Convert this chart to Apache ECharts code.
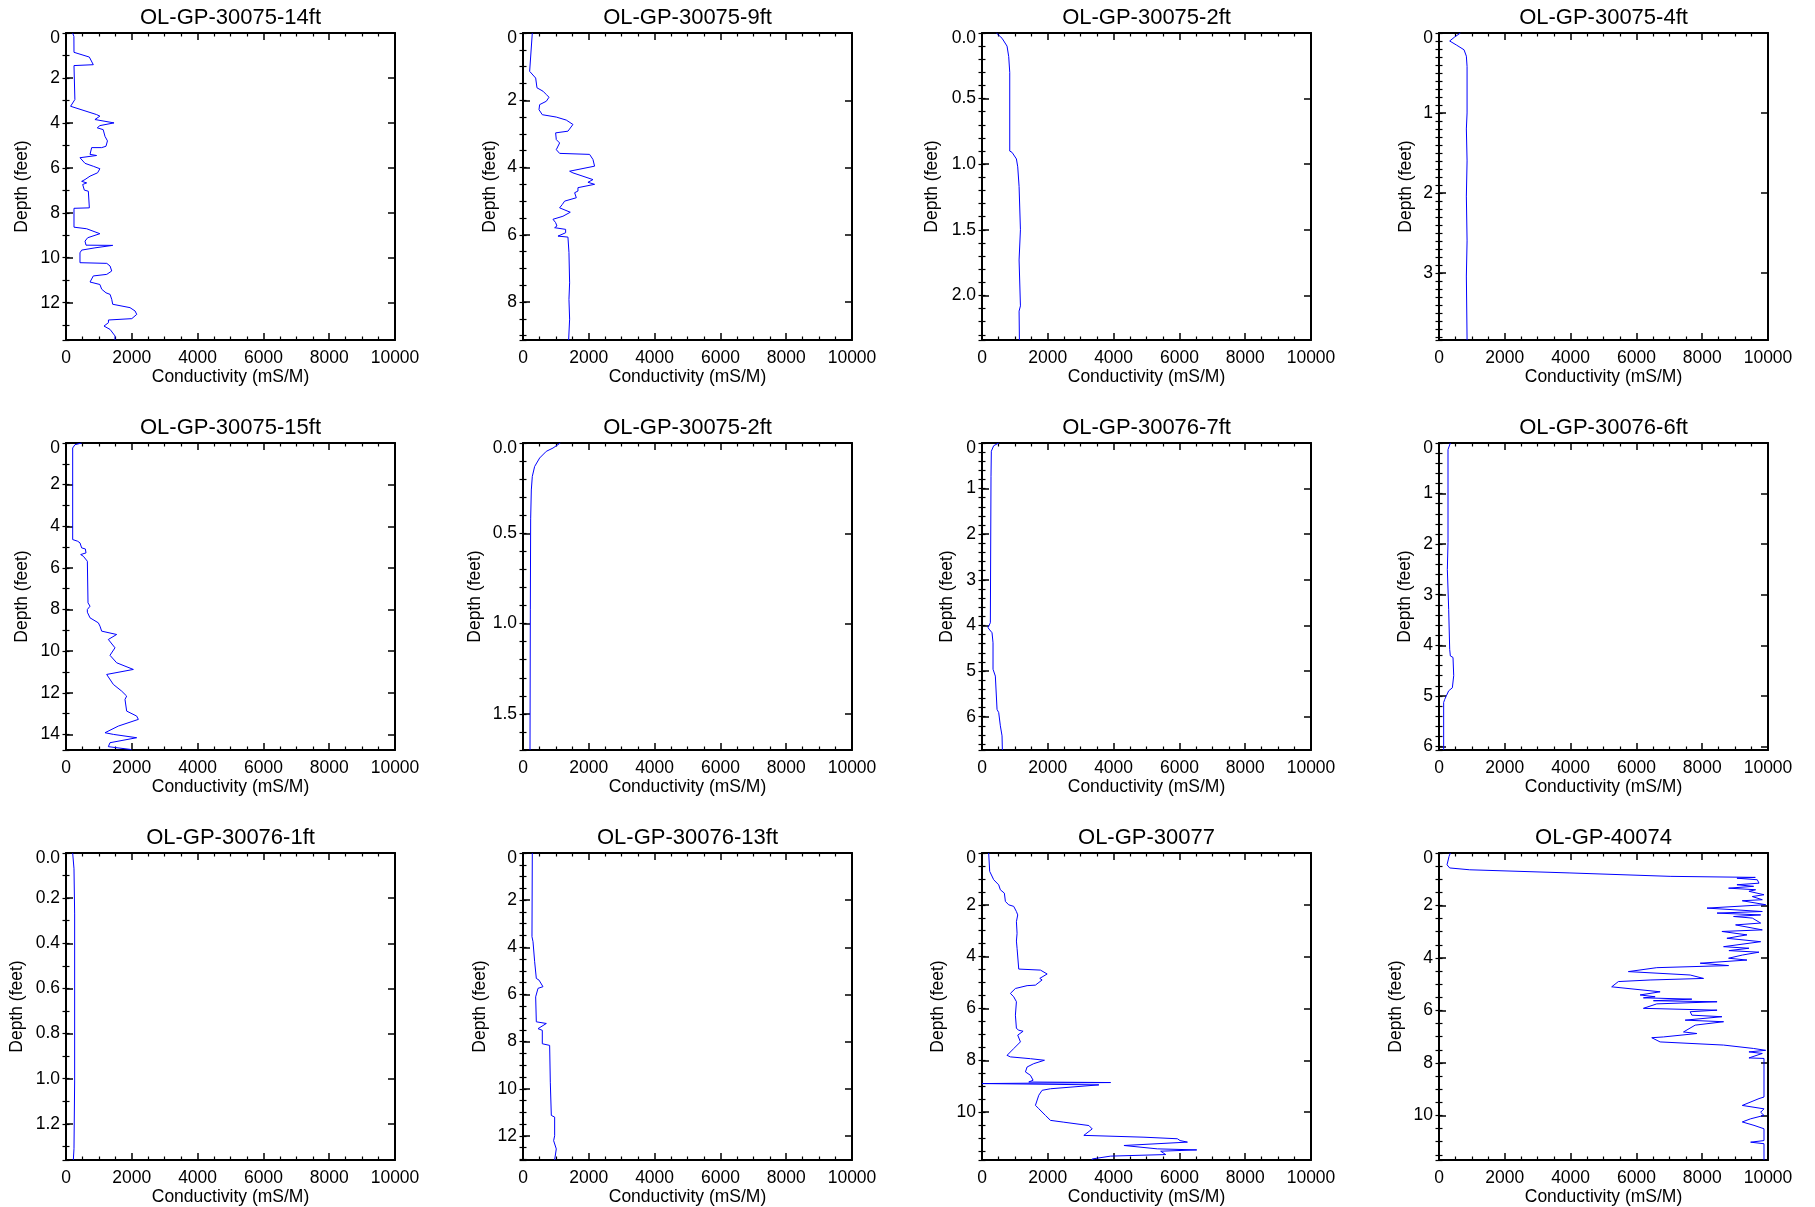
<!DOCTYPE html>
<html><head><meta charset="utf-8">
<script src="https://cdn.jsdelivr.net/npm/echarts@6/dist/echarts.min.js"></script>
<style>html,body{margin:0;padding:0;background:#fff}#chart{width:1815px;height:1207px}</style>
</head><body><div id="chart"></div><script>
// ---------- DATA ----------
const titles = ['OL-GP-30075-14ft','OL-GP-30075-9ft','OL-GP-30075-2ft','OL-GP-30075-4ft',
  'OL-GP-30075-15ft','OL-GP-30075-2ft','OL-GP-30076-7ft','OL-GP-30076-6ft',
  'OL-GP-30076-1ft','OL-GP-30076-13ft','OL-GP-30077','OL-GP-40074'];
const depthMax = [13.66, 9.13, 2.34, 3.84, 14.75, 1.70, 6.73, 6.07, 1.36, 13.02, 11.85, 11.7];
const depthStep = [2, 2, 0.5, 1, 2, 0.5, 1, 1, 0.2, 2, 2, 2];
const depthMinorStep = [1, 0.5, 0.1, 0.1, 1, 0.1, 0.2, 0.2, 0.1, 0.5, 0.5, 0.5];
const depthDecimals = [0, 0, 1, 0, 0, 1, 0, 0, 1, 0, 0, 0];
const condMin = 0, condMax = 10000, condStep = 2000, condMinorSplit = 4;
const xAxisTitle = 'Conductivity (mS/M)';
const yAxisTitle = 'Depth (feet)';

const p1Cond = [200,240,243,709,830,243,270,140,930,1030,880,1460,1030,950,1130,1185,1260,1215,1085,780,730,930,425,385,578,830,1030,960,730,578,476,628,507,557,679,710,243,243,193,628,1030,659,578,608,1420,880,476,425,425,1240,1340,1390,1240,830,730,1030,1085,1215,1340,1390,1420,1945,2100,2150,2000,1290,1290,1155,1340,1490,1490];
const p1Depth = [0,0.15,0.86,1.07,1.41,1.45,2.96,3.26,3.63,3.7,3.85,4.0,4.12,4.22,4.3,4.6,4.8,5.04,5.1,5.1,5.4,5.45,5.55,5.63,5.8,5.93,6.04,6.22,6.37,6.52,6.6,6.67,6.74,6.99,7.04,7.78,7.8,8.64,8.67,8.71,8.93,9.11,9.26,9.44,9.45,9.56,9.66,9.78,10.22,10.25,10.37,10.59,10.74,10.81,11.08,11.19,11.4,11.56,11.63,11.85,12.07,12.22,12.37,12.52,12.71,12.77,12.89,13.04,13.19,13.48,13.66];

const p2Cond = [283,202,253,385,425,607,709,790,709,506,486,587,1012,1316,1518,1366,992,1012,1113,1012,1113,2024,2126,2176,2126,1417,1518,2126,1974,2176,1670,1670,1570,1620,1265,1194,1113,1437,1214,911,992,1032,962,1296,1296,1063,1366,1397,1417,1397,1417,1387];
const p2Depth = [0,1.14,1.19,1.34,1.63,1.73,1.83,1.91,2.03,2.13,2.28,2.43,2.5,2.59,2.72,2.92,2.97,3.17,3.27,3.47,3.58,3.61,3.76,3.96,4.01,4.11,4.16,4.36,4.44,4.5,4.6,4.7,4.75,4.9,5.0,5.1,5.2,5.33,5.45,5.54,5.64,5.74,5.79,5.84,5.94,6.04,6.07,6.53,7.43,7.92,8.51,9.13];

const p3Cond = [437,609,761,812,843,843,914,1046,1086,1127,1168,1127,1168,1127,1137];
const p3Depth = [0,0.04,0.1,0.18,0.3,0.9,0.91,0.96,1.02,1.17,1.5,1.73,2.08,2.12,2.34];

const p4Cond = [650,477,325,528,761,832,853,853,832,853,832,853,832,853];
const p4Depth = [0,0.05,0.1,0.15,0.21,0.29,0.42,1.0,1.2,1.6,2.04,2.6,3.04,3.84];

const p5Cond = [476,274,203,203,355,426,476,588,608,446,527,649,669,730,649,649,730,983,1033,1084,1540,1287,1489,1337,1540,1793,2047,1236,1439,1692,1844,1793,1844,2148,2199,1591,1185,1439,2148,1337,1287,1945,1995];
const p5Depth = [0,0.08,0.24,4.64,4.72,4.8,5.04,5.09,5.28,5.36,5.44,5.68,7.68,7.84,8.0,8.13,8.4,8.64,8.8,9.04,9.2,9.44,9.84,10.2,10.56,10.72,10.88,11.12,11.6,11.92,12.16,12.32,12.88,13.12,13.28,13.6,13.92,14.0,14.16,14.4,14.59,14.72,14.75];

const p6Cond = [1134,911,709,506,354,283,253,233,223,213];
const p6Depth = [0,0.028,0.046,0.083,0.13,0.185,0.26,0.42,0.92,1.70];

const p7Cond = [508,355,284,274,254,183,305,335,335,406,457,508,558,609,619];
const p7Depth = [0,0.06,0.18,0.73,3.94,4.05,4.16,4.38,4.96,5.11,5.84,5.91,6.2,6.42,6.73];

const p8Cond = [345,274,274,254,294,325,345,426,447,406,294,223,173,142,142];
const p8Depth = [0,0.13,1.97,2.5,3.29,4.08,4.21,4.24,4.6,4.84,4.9,5.0,5.07,5.13,6.07];

const p9Cond = [203,243,263,263,243,223];
const p9Depth = [0,0.07,0.27,1.01,1.31,1.36];

const p10Cond = [283,273,304,354,405,486,456,607,456,385,405,709,456,587,587,810,830,861,962,962,931,1012,962];
const p10Depth = [0,3.55,3.76,4.61,5.32,5.39,5.46,5.67,5.74,6.1,7.16,7.23,7.45,7.52,8.09,8.16,9.72,11.13,11.2,11.99,12.2,12.55,13.02];

const p11Cond = [203,234,355,508,558,680,711,812,964,1046,1086,1046,1066,1046,1066,1117,1777,1827,1980,1756,1827,1624,1371,1015,863,964,1046,1015,1046,1117,1249,1086,1168,964,761,863,1472,1898,1574,1371,1320,1472,1553,1421,3909,0,3553,2081,1827,1726,1624,1726,1929,2081,2487,3249,3350,3299,3401,3096,4924,5939,6020,6244,4315,5330,6528,5431,5584,3909,3350,3350];
const p11Depth = [0,0.71,1.03,1.23,1.42,1.55,1.87,2.0,2.06,2.26,2.39,2.65,3.1,3.4,3.68,4.48,4.52,4.58,4.67,4.84,4.9,5.1,5.12,5.23,5.42,5.55,5.74,6.26,6.77,6.84,6.88,7.03,7.29,7.55,7.81,7.87,7.94,8.0,8.13,8.26,8.45,8.58,8.77,8.84,8.86,8.9,8.95,9.1,9.16,9.35,9.74,9.87,10.13,10.32,10.39,10.52,10.65,10.71,10.71,10.9,10.97,11.03,11.1,11.16,11.29,11.42,11.46,11.51,11.64,11.7,11.81,11.85];

const p12Cond = [345,305,244,325,934,3980,7025,9614,9056,9675,9624,9726,9056,9563,8802,9624,9421,9878,9523,9827,9218,9929,8147,9827,8452,9777,8954,9523,9777,9015,9827,8599,9360,8751,9777,8650,9421,8812,9726,9218,8802,9360,7939,8802,6619,5756,7635,8041,6416,5452,5249,6721,6112,6569,6213,7685,6518,8452,6619,6213,8452,7635,7685,8599,7482,8650,7787,7432,7838,6822,6467,6721,8650,9563,9929,9421,9827,9421,9878,9878,9726,9218,9878,9777,9878,9472,9218,9574,9878,9878,9472,9878,9878];
const p12Depth = [0,0.13,0.45,0.57,0.64,0.76,0.89,0.93,0.96,1.02,1.08,1.15,1.21,1.27,1.34,1.4,1.46,1.59,1.66,1.78,1.82,1.97,2.1,2.23,2.29,2.36,2.42,2.48,2.67,2.74,2.93,2.99,3.12,3.25,3.38,3.57,3.63,3.72,3.78,3.89,4.01,4.08,4.2,4.29,4.37,4.52,4.65,4.78,4.84,4.9,5.1,5.29,5.41,5.48,5.52,5.57,5.63,5.67,5.75,5.92,5.99,6.05,6.18,6.24,6.37,6.43,6.56,6.82,6.88,7.01,7.04,7.2,7.32,7.45,7.52,7.58,7.64,7.81,7.83,9.3,9.36,9.62,9.75,9.88,10.0,10.13,10.25,10.38,10.51,10.96,11.02,11.08,11.7];

const condSeries = [p1Cond,p2Cond,p3Cond,p4Cond,p5Cond,p6Cond,p7Cond,p8Cond,p9Cond,p10Cond,p11Cond,p12Cond];
const depthSeries = [p1Depth,p2Depth,p3Depth,p4Depth,p5Depth,p6Depth,p7Depth,p8Depth,p9Depth,p10Depth,p11Depth,p12Depth];

// ---------- LAYOUT ----------
const colLeft = [66, 523, 982, 1439];
const rowTop = [33, 443, 853];
const plotW = 329, plotH = 307;
const yNameGap = [35, 24, 41, 24, 35, 39, 26, 25, 40, 34, 35, 34];
const FONT = 'Liberation Sans, Arial, Helvetica, sans-serif';
const BLACK = '#000';
const TICK_FS = 17.5, NAME_FS = 17.5, TITLE_FS = 22;

const grid = [], xAxis = [], yAxis = [], series = [], title = [];
for (let i = 0; i < 12; i++) {
  const c = i % 4, r = Math.floor(i / 4);
  const left = colLeft[c], top = rowTop[r];
  grid.push({left: left, top: top, width: plotW, height: plotH, containLabel: false});
  title.push({text: titles[i], left: left + plotW / 2, top: top - 26, textAlign: 'center', padding: 0,
    textStyle: {fontSize: TITLE_FS, fontWeight: 'normal', color: BLACK, fontFamily: FONT}});
  const xCommon = {
    type: 'value', gridIndex: i, min: condMin, max: condMax, interval: condStep,
    axisLine: {show: true, onZero: false, lineStyle: {color: BLACK, width: 2}},
    axisTick: {show: true, inside: true, length: 7, lineStyle: {color: BLACK, width: 1.5}},
    minorTick: {show: true, splitNumber: condMinorSplit, length: 3.5, lineStyle: {color: BLACK, width: 1.2}},
    splitLine: {show: false}, minorSplitLine: {show: false}
  };
  xAxis.push(Object.assign({}, xCommon, {
    position: 'bottom',
    axisLabel: {show: true, margin: 9, fontSize: TICK_FS, color: BLACK, fontFamily: FONT,
      formatter: v => String(Math.round(v))},
    name: xAxisTitle, nameLocation: 'middle', nameGap: 28,
    nameTextStyle: {fontSize: NAME_FS, color: BLACK, fontFamily: FONT}
  }));
  xAxis.push(Object.assign({}, xCommon, {position: 'top', axisLabel: {show: false}}));

  const dec = depthDecimals[i];
  const yCommon = {
    type: 'value', gridIndex: i, min: 0, max: depthMax[i], inverse: true,
    splitLine: {show: false}, minorSplitLine: {show: false}
  };
  yAxis.push(Object.assign({}, yCommon, {
    position: 'left', interval: depthStep[i],
    axisLine: {show: true, onZero: false, lineStyle: {color: BLACK, width: 2}},
    axisTick: {show: true, inside: true, length: 7, lineStyle: {color: BLACK, width: 1.5}},
    axisLabel: {show: true, margin: 6, fontSize: TICK_FS, color: BLACK, fontFamily: FONT,
      showMaxLabel: false,
      formatter: v => {
        const s = Number(v).toFixed(dec);
        return Number(v) === 0 ? '{first|' + s + '}' : s;
      },
      rich: {first: {fontSize: TICK_FS, color: BLACK, fontFamily: FONT, padding: [10, 0, 0, 0]}}},
    name: yAxisTitle, nameLocation: 'middle', nameGap: yNameGap[i],
    nameTextStyle: {fontSize: NAME_FS, color: BLACK, fontFamily: FONT}
  }));
  yAxis.push(Object.assign({}, yCommon, {
    position: 'left', interval: depthMinorStep[i],
    axisLine: {show: false}, axisLabel: {show: false},
    axisTick: {show: true, inside: true, length: 3.5, lineStyle: {color: BLACK, width: 1.2}}
  }));
  yAxis.push(Object.assign({}, yCommon, {
    position: 'right', interval: depthStep[i],
    axisLine: {show: true, onZero: false, lineStyle: {color: BLACK, width: 2}},
    axisTick: {show: true, inside: true, length: 7, lineStyle: {color: BLACK, width: 1.5}},
    axisLabel: {show: false}
  }));
  yAxis.push(Object.assign({}, yCommon, {
    position: 'right', interval: depthMinorStep[i],
    axisLine: {show: false}, axisLabel: {show: false},
    axisTick: {show: true, inside: true, length: 3.5, lineStyle: {color: BLACK, width: 1.2}}
  }));

  const cond = condSeries[i], depth = depthSeries[i];
  series.push({
    type: 'line', xAxisIndex: 2 * i, yAxisIndex: 4 * i,
    data: cond.map((v, k) => [v, depth[k]]),
    showSymbol: false, symbol: 'none', animation: false, silent: true,
    lineStyle: {color: '#0000ff', width: 1}, clip: true
  });
}

const chart = echarts.init(document.getElementById('chart'), null, {renderer: 'canvas'});
chart.setOption({backgroundColor: '#fff', animation: false, title, grid, xAxis, yAxis, series});
</script></body></html>
